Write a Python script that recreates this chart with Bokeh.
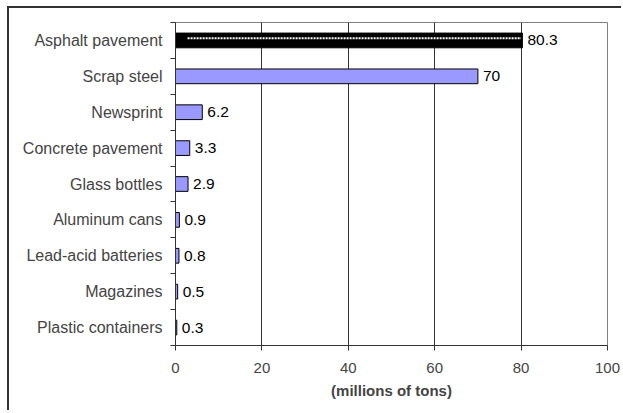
from bokeh.plotting import figure
from bokeh.models import Range1d, FixedTicker, ColumnDataSource
from bokeh.core.properties import value
from bokeh.embed import file_html
from bokeh.resources import INLINE

categories = ["Asphalt pavement", "Scrap steel", "Newsprint", "Concrete pavement",
              "Glass bottles", "Aluminum cans", "Lead-acid batteries", "Magazines",
              "Plastic containers"]
values = [80.3, 70, 6.2, 3.3, 2.9, 0.9, 0.8, 0.5, 0.3]
value_labels = ["80.3", "70", "6.2", "3.3", "2.9", "0.9", "0.8", "0.5", "0.3"]
x_ticks = [0, 20, 40, 60, 80, 100]
highlight_index = 0
highlight_start = 2.8

n = len(categories)
ypos = [i + 0.5 for i in range(n)]
colors = ["#000000" if i == highlight_index else "#9999FF" for i in range(n)]

src = ColumnDataSource(dict(y=ypos, v=values, lab=value_labels, c=colors))

FONT = "Liberation Sans"

p = figure(width=614, height=404, output_backend="svg", toolbar_location=None,
           x_range=Range1d(0, 100), y_range=Range1d(n, 0))
p.styles = {"margin-left": "7px", "margin-top": "6px",
            "border-top": "2px solid #333333", "border-left": "2px solid #333333"}
p.min_border_left = 166
p.min_border_right = 16
p.min_border_top = 14
p.min_border_bottom = 67
p.outline_line_color = "#808080"
p.outline_line_width = 1
p.background_fill_color = "white"
p.border_fill_color = "white"

p.hbar(y="y", right="v", left=0, height=0.41, fill_color="c", line_color="#000000",
       line_width=1, source=src)
p.segment(x0=[highlight_start], x1=[values[highlight_index] - 0.3],
          y0=[ypos[highlight_index] - 0.06], y1=[ypos[highlight_index] - 0.06],
          line_color="white", line_width=2, line_dash="2 1")
p.text(x="v", y="y", text="lab", source=src, x_offset=5, text_baseline="middle",
       text_align="left", text_font=value(FONT), text_font_size="15.5px",
       text_color="#000000")

# x axis
p.xaxis.ticker = FixedTicker(ticks=x_ticks)
p.xaxis.major_tick_out = 5
p.xaxis.major_tick_in = 0
p.xaxis.minor_tick_line_color = None
p.xaxis.axis_line_color = "#333333"
p.xaxis.major_tick_line_color = "#333333"
p.xaxis.major_label_text_font = FONT
p.xaxis.major_label_text_font_size = "15px"
p.xaxis.major_label_standoff = 12
p.xaxis.axis_label = "(millions of tons)"
p.xaxis.axis_label_text_font = FONT
p.xaxis.axis_label_text_font_size = "15px"
p.xaxis.axis_label_text_font_style = "bold"
p.xaxis.axis_label_standoff = 6

# y axis
p.yaxis.ticker = FixedTicker(ticks=ypos, minor_ticks=list(range(n + 1)))
p.yaxis.major_label_overrides = {y: c for y, c in zip(ypos, categories)}
p.yaxis.major_tick_line_color = None
p.yaxis.major_tick_out = 0
p.yaxis.major_tick_in = 0
p.yaxis.minor_tick_out = 5
p.yaxis.minor_tick_in = 0
p.yaxis.minor_tick_line_color = "#333333"
p.yaxis.axis_line_color = "#333333"
p.yaxis.major_label_text_font = FONT
p.yaxis.major_label_text_font_size = "16px"
p.yaxis.major_label_standoff = 8

p.xgrid.grid_line_color = "#333333"
p.xgrid.grid_line_width = 1
p.ygrid.grid_line_color = None

open("out.html", "w").write(file_html(p, INLINE))
